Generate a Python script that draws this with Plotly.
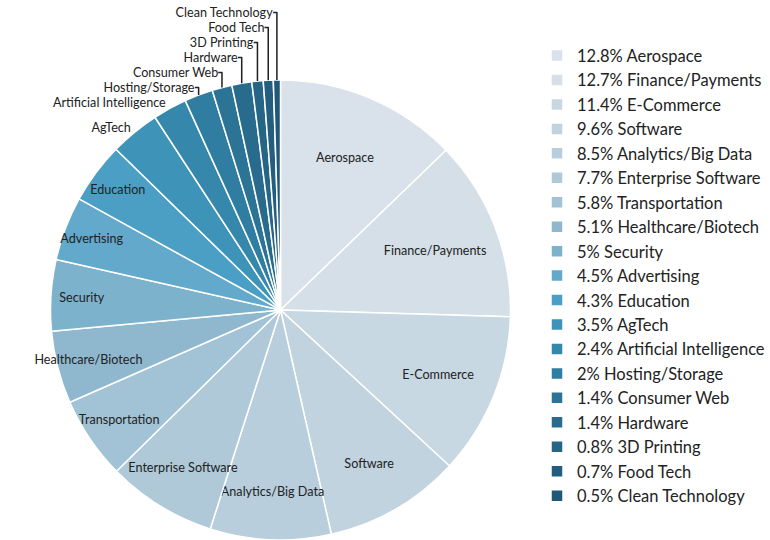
import plotly.graph_objects as go

categories = ["Aerospace", "Finance/Payments", "E-Commerce", "Software", "Analytics/Big Data",
              "Enterprise Software", "Transportation", "Healthcare/Biotech", "Security", "Advertising",
              "Education", "AgTech", "Artificial Intelligence", "Hosting/Storage", "Consumer Web",
              "Hardware", "3D Printing", "Food Tech", "Clean Technology"]
shares = [12.8, 12.7, 11.4, 9.6, 8.5, 7.7, 5.8, 5.1, 5, 4.5, 4.3, 3.5, 2.4, 2, 1.4, 1.4, 0.8, 0.7, 0.5]
colors = ["#d9e1ea", "#d4dfe7", "#c8d8e2", "#c0d3df", "#b8cedc", "#afc9d8", "#a2c2d5",
          "#8fb8cf", "#7db2cd", "#62a9cb", "#4c9fc4", "#3d93b8", "#3587ab", "#2f7ea1",
          "#2b7496", "#296b8c", "#256585", "#235e7e", "#1f5878"]

legend_labels = [f"{v:g}% {c}" for v, c in zip(shares, categories)]
positions = ["inside" if v >= 4.3 else "outside" for v in shares]

fig = go.Figure(go.Pie(
    labels=legend_labels,
    values=shares,
    text=categories,
    textinfo="text",
    textposition=positions,
    insidetextorientation="horizontal",
    sort=False,
    direction="clockwise",
    rotation=0,
    automargin=False,
    marker=dict(colors=colors, line=dict(color="white", width=1.5)),
    textfont=dict(family="Lato", size=12.6, color="#222222"),
    insidetextfont=dict(family="Lato", size=12.6, color="#222222"),
    outsidetextfont=dict(family="Lato", size=12.2, color="#222222"),
    domain=dict(x=[0.0656, 0.663], y=[0.0, 0.852]),
    hoverinfo="label",
))

fig.update_layout(
    width=770, height=540,
    margin=dict(l=0, r=0, t=0, b=0, autoexpand=False),
    paper_bgcolor="white",
    showlegend=True,
    uniformtext=dict(minsize=12.6, mode="show"),
    legend=dict(x=1.0, y=0.929, xanchor="right", yanchor="top",
                font=dict(family="Lato", size=16.5, color="#222222"),
                itemwidth=30, tracegroupgap=0),
    font=dict(family="Lato"),
)

fig.write_html("out.html")
